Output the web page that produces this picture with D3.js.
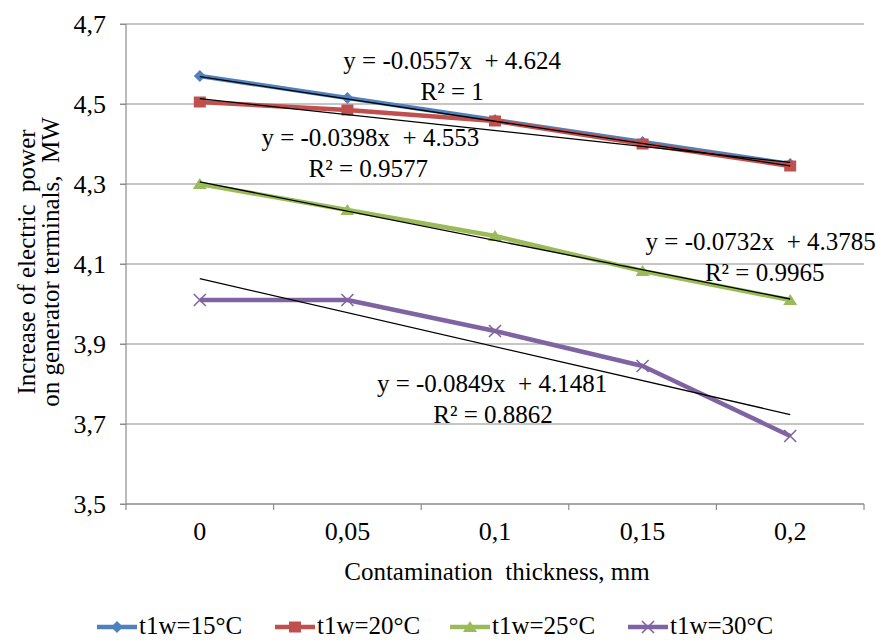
<!DOCTYPE html>
<html>
<head>
<meta charset="utf-8">
<script src="https://cdn.jsdelivr.net/npm/d3@7"></script>
<style>
  body { margin: 0; background: #fff; }
  svg text { font-family: "Liberation Serif", "Times New Roman", serif; fill: #000; }
</style>
</head>
<body>
<div id="chart"></div>
<script>
// Data
var thickness = ["0", "0,05", "0,1", "0,15", "0,2"];
var yTicks = [3.5, 3.7, 3.9, 4.1, 4.3, 4.5, 4.7];
var seriesNames = ["t1w=15°C", "t1w=20°C", "t1w=25°C", "t1w=30°C"];
var t15 = [4.57, 4.515, 4.46, 4.405, 4.35];
var t20 = [4.505, 4.485, 4.4575, 4.40, 4.345];
var t25 = [4.30, 4.235, 4.17, 4.0825, 4.01];
var t30 = [4.01, 4.01, 3.9325, 3.845, 3.67];
// linear trend lines, y = slope * x + intercept with x = 1..5
var slopes = [-0.0557, -0.0398, -0.0732, -0.0849];
var intercepts = [4.624, 4.553, 4.3785, 4.1481];
var eqLabels = ["y = -0.0557x  + 4.624", "y = -0.0398x  + 4.553", "y = -0.0732x  + 4.3785", "y = -0.0849x  + 4.1481"];
var r2Labels = ["R² = 1", "R² = 0.9577", "R² = 0.9965", "R² = 0.8862"];

var colors = ["#4F81BD", "#C0504D", "#9BBB59", "#8064A2"];

var margin = { top: 24, right: 12, bottom: 136, left: 126 },
    width = 876 - margin.left - margin.right,
    height = 640 - margin.top - margin.bottom;

var svg = d3.select("#chart")
    .append("svg")
    .attr("width", 876)
    .attr("height", 640)
    .append("g")
    .attr("transform", "translate(" + margin.left + "," + margin.top + ")");

var x = d3.scaleBand().domain(thickness).range([0, width]);
var y = d3.scaleLinear().domain([3.5, 4.7]).range([height, 0]);
// index scale for trend lines and label placement (0 = first category center)
var xi = d3.scaleLinear().domain([0, 4]).range([x(thickness[0]) + x.bandwidth() / 2, x(thickness[4]) + x.bandwidth() / 2]);

// Gridlines
svg.append("g")
    .selectAll("line")
    .data(yTicks)
    .enter()
    .append("line")
    .attr("x1", -6)
    .attr("x2", width)
    .attr("y1", function(d) { return y(d) })
    .attr("y2", function(d) { return y(d) })
    .style("stroke", "#8c8c8c")
    .style("stroke-width", 1.2);

// Y axis
var yAxis = svg.append("g")
    .call(d3.axisLeft(y).tickValues(yTicks).tickSize(6).tickPadding(14)
        .tickFormat(function(d) { return d.toFixed(1).replace(".", ",") }));
yAxis.attr("font-family", null);
yAxis.select(".domain").attr("stroke", "#8c8c8c").attr("stroke-width", 1.2).attr("d", "M0,0V" + height);
yAxis.selectAll(".tick line").attr("stroke", "#8c8c8c");
yAxis.selectAll("text").style("font-size", "26px");

// X axis, ticks between categories
var xAxis = svg.append("g")
    .attr("transform", "translate(0," + height + ")")
    .call(d3.axisBottom(x).tickSize(0).tickPadding(18));
xAxis.attr("font-family", null);
xAxis.select(".domain").attr("stroke", "#8c8c8c").attr("stroke-width", 1.2).attr("d", "M0,0H" + width);
xAxis.selectAll("text").style("font-size", "26px");
xAxis.selectAll(".sep")
    .data(d3.range(thickness.length + 1))
    .enter()
    .append("line")
    .attr("class", "sep")
    .attr("x1", function(d) { return d * x.step() })
    .attr("x2", function(d) { return d * x.step() })
    .attr("y1", 0)
    .attr("y2", 6)
    .attr("stroke", "#8c8c8c")
    .attr("stroke-width", 1.2);

// Axis titles
svg.append("text")
    .attr("text-anchor", "middle")
    .attr("x", width / 2 + 2)
    .attr("y", height + 76)
    .style("font-size", "25px")
    .style("white-space", "pre")
    .text("Contamination  thickness, mm");

var ylab = svg.append("text")
    .attr("text-anchor", "middle")
    .attr("transform", "translate(-91," + (height / 2 - 2) + ") rotate(-90)")
    .style("font-size", "25px")
    .style("white-space", "pre");
ylab.append("tspan").attr("x", 0).attr("dy", 0).text("Increase of electric  power");
ylab.append("tspan").attr("x", 0).attr("dy", 24).text("on generator terminals,  MW");

// Series
var data_ready = [t15, t20, t25, t30].map(function(values, i) {
    return { name: seriesNames[i], color: colors[i], idx: i, values: values };
});

var line = d3.line()
    .x(function(d, i) { return x(thickness[i]) + x.bandwidth() / 2 })
    .y(function(d) { return y(d) });

svg.selectAll("series")
    .data(data_ready)
    .enter()
    .append("path")
    .attr("d", function(d) { return line(d.values) })
    .style("fill", "none")
    .style("stroke", function(d) { return d.color })
    .style("stroke-width", 4.5)
    .style("stroke-linejoin", "round");

function marker(g, idx, color) {
    if (idx == 0) {
        g.append("path").attr("d", "M0,-6L6,0L0,6L-6,0Z").style("fill", color);
    } else if (idx == 1) {
        g.append("rect").attr("x", -6).attr("y", -5.5).attr("width", 12).attr("height", 11).style("fill", color);
    } else if (idx == 2) {
        g.append("path").attr("d", "M0,-6L7,5L-7,5Z").style("fill", color);
    } else {
        g.append("path").attr("d", "M-6,-6L6,6M-6,6L6,-6").style("stroke", color).style("stroke-width", 1.6);
    }
}

data_ready.forEach(function(s) {
    s.values.forEach(function(v, i) {
        var g = svg.append("g")
            .attr("transform", "translate(" + (x(thickness[i]) + x.bandwidth() / 2) + "," + y(v) + ")");
        marker(g, s.idx, s.color);
    });
});

// Trend lines
svg.selectAll("trend")
    .data(slopes)
    .enter()
    .append("line")
    .attr("x1", xi(0))
    .attr("x2", xi(4))
    .attr("y1", function(d, i) { return y(d * 1 + intercepts[i]) })
    .attr("y2", function(d, i) { return y(d * 5 + intercepts[i]) })
    .style("stroke", "#000")
    .style("stroke-width", 1.3);

// Equation labels (position in category index / value units)
var eqPos = [[1.71, 4.5875], [1.155, 4.395], [3.8, 4.135], [1.98, 3.78]];
svg.selectAll("eq")
    .data(eqLabels)
    .enter()
    .append("text")
    .attr("text-anchor", "middle")
    .attr("x", function(d, i) { return xi(eqPos[i][0]) })
    .attr("y", function(d, i) { return y(eqPos[i][1]) })
    .style("font-size", "25px")
    .style("white-space", "pre")
    .text(function(d) { return d });
svg.selectAll("r2")
    .data(r2Labels)
    .enter()
    .append("text")
    .attr("text-anchor", "middle")
    .attr("x", function(d, i) { return xi(eqPos[i][0]) + [0, -2, 4, 1][i] })
    .attr("y", function(d, i) { return y(eqPos[i][1]) + 31 })
    .style("font-size", "25px")
    .text(function(d) { return d });

// Legend
var legendX = [97, 275, 450, 628];
var legend = d3.select("svg").selectAll("legend")
    .data(data_ready)
    .enter()
    .append("g")
    .attr("transform", function(d, i) { return "translate(" + legendX[i] + ",627)" });
legend.append("line")
    .attr("x1", 0).attr("x2", 40)
    .style("stroke", function(d) { return d.color })
    .style("stroke-width", 4.5);
legend.each(function(d) {
    marker(d3.select(this).append("g").attr("transform", "translate(20,0)"), d.idx, d.color);
});
legend.append("text")
    .attr("x", 42)
    .attr("y", 7)
    .style("font-size", "25px")
    .text(function(d) { return d.name });
</script>
</body>
</html>
